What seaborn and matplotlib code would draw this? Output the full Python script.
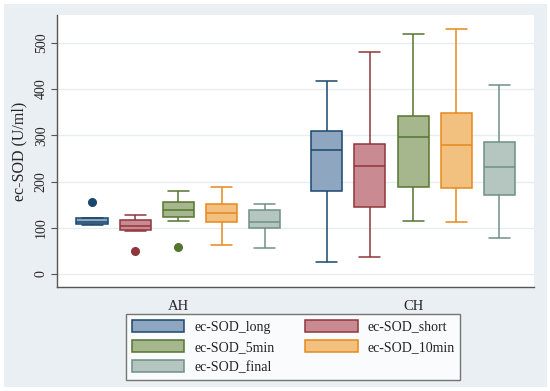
from matplotlib import pyplot as plt
from matplotlib.patches import Patch, Rectangle
import numpy as np
import pandas as pd
import seaborn as sns

# Kategorie a serie
groups = ["AH", "CH"]
series = ["ec-SOD_long", "ec-SOD_short", "ec-SOD_5min", "ec-SOD_10min", "ec-SOD_final"]
fill_colors = ["#8fa6c1", "#c98b91", "#a6b78d", "#f2c07f", "#b5c5bf"]
edge_colors = ["#1a476f", "#90353b", "#55752f", "#e8891c", "#6f8f85"]

# Hodnoty (9 pozorovani na krabici)
long_ah = [107, 108, 109, 111, 113, 118, 122, 122, 156]
long_ch = [27, 120, 179, 230, 269, 290, 309, 360, 418]
short_ah = [50, 93, 96, 100, 103, 110, 117, 122, 128]
short_ch = [37, 100, 145, 190, 233, 260, 281, 380, 481]
min5_ah = [59, 114, 123, 130, 138, 146, 155, 168, 180]
min5_ch = [114, 150, 188, 240, 296, 320, 342, 430, 519]
min10_ah = [62, 90, 112, 120, 131, 140, 151, 170, 188]
min10_ch = [112, 150, 186, 230, 279, 310, 349, 440, 530]
final_ah = [57, 80, 99, 105, 112, 125, 138, 145, 152]
final_ch = [78, 120, 170, 200, 231, 260, 285, 350, 409]

values = {
    "ec-SOD_long": (long_ah, long_ch),
    "ec-SOD_short": (short_ah, short_ch),
    "ec-SOD_5min": (min5_ah, min5_ch),
    "ec-SOD_10min": (min10_ah, min10_ch),
    "ec-SOD_final": (final_ah, final_ch),
}

rows = []
for s in series:
    for g, vals in zip(groups, values[s]):
        for v in vals:
            rows.append({"group": g, "series": s, "value": v})
df = pd.DataFrame(rows)

sns.set_style("ticks")
plt.rcParams["font.family"] = ["Liberation Serif", "DejaVu Serif"]
plt.rcParams["text.color"] = "#222222"

fig = plt.figure(figsize=(5.5, 3.91), dpi=100)
fig.patch.set_facecolor("white")
fig.add_artist(Rectangle((4 / 550, 4 / 391), 543 / 550, 383 / 391,
                         transform=fig.transFigure, facecolor="#e9eff2",
                         edgecolor="none", zorder=-10))
ax = fig.add_axes([57.5 / 550, 1 - 287 / 391, (534 - 57.5) / 550, (287 - 15) / 391])
ax.set_facecolor("white")

box_width = 0.92
sns.boxplot(data=df, x="group", y="value", hue="series",
            order=groups, hue_order=series, palette=dict(zip(series, fill_colors)),
            saturation=1, width=box_width, gap=0.28, linecolor="#333333",
            linewidth=1.1,
            flierprops=dict(marker="o", markersize=5.5),
            legend=False, ax=ax)

# Obarveni okraju podle serie (nejblizsi stred krabice)
slot = box_width / len(series)
centers = np.array([gi + (si - (len(series) - 1) / 2) * slot
                    for gi in range(len(groups)) for si in range(len(series))])
center_color = [edge_colors[si] for gi in range(len(groups)) for si in range(len(series))]

def nearest(x):
    i = int(np.argmin(np.abs(centers - x)))
    return centers[i], center_color[i]

cap_half = 0.0895 / 2
for p in ax.patches:
    verts = p.get_path().vertices
    p.set_edgecolor(nearest(verts[:, 0].mean())[1])
for ln in ax.lines:
    xd = np.asarray(ln.get_xdata(), dtype=float)
    yd = np.asarray(ln.get_ydata(), dtype=float)
    if xd.size == 0:
        continue
    cx, c = nearest(xd.mean())
    ln.set_color(c)
    ln.set_markerfacecolor(c)
    ln.set_markeredgecolor(c)
    # koncove carky fousu jsou sirsi nez v seabornu
    span = xd.max() - xd.min()
    if xd.size == 2 and yd[0] == yd[1] and 0 < span < slot * 0.6:
        ln.set_xdata([cx - cap_half, cx + cap_half])

ax.set_xlim(-0.515, 1.515)
ax.set_ylim(-28, 560)
ax.set_yticks([0, 100, 200, 300, 400, 500])
ax.yaxis.grid(True, color="#e6edf0", linewidth=1)
ax.set_axisbelow(True)
ax.set_xlabel("")
ax.set_ylabel("ec-SOD (U/ml)", fontsize=11.5, labelpad=5)
for lab in ax.get_yticklabels():
    lab.set_rotation(90)
    lab.set_va("center")
ax.tick_params(axis="y", length=4, color="#555555", labelsize=10, pad=3)
ax.tick_params(axis="x", length=0, labelsize=10.5, pad=9)
sns.despine(ax=ax)
for sp in ["left", "bottom"]:
    ax.spines[sp].set_color("#555555")
    ax.spines[sp].set_linewidth(1)

handles = [Patch(facecolor=f, edgecolor=e, linewidth=1.1, label=s)
           for s, f, e in zip(series, fill_colors, edge_colors)]
order = [0, 2, 4, 1, 3]
leg = fig.legend([handles[i] for i in order], [series[i] for i in order],
                 loc="upper left", bbox_to_anchor=(126 / 550, 1 - 314 / 391),
                 ncol=2, fontsize=10, frameon=True, fancybox=False,
                 handlelength=3.8, handleheight=1.0, handletextpad=0.7,
                 columnspacing=2.2, labelspacing=0.45, borderpad=0.4,
                 borderaxespad=0)
leg.get_frame().set_edgecolor("#555555")
leg.get_frame().set_linewidth(1)

fig.savefig("out.png", dpi=100)
